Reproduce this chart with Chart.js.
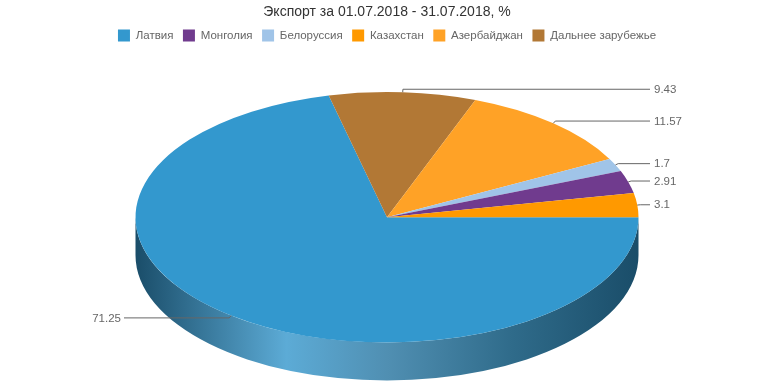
<!DOCTYPE html>
<html>
<head>
<meta charset="utf-8">
<title>Экспорт</title>
<script src="https://cdn.jsdelivr.net/npm/chart.js@4"></script>
<style>
	html, body { margin: 0; padding: 0; background: #fff; }
	canvas { display: block; }
</style>
</head>
<body>
<canvas id="myChart" width="774" height="387"></canvas>
<script>
// ----------------- Chart data -------------------------//
// slices go clockwise from 3 o'clock, the legend has its own order
const categories = ["Латвия", "Дальнее зарубежье", "Азербайджан", "Белоруссия", "Монголия", "Казахстан"];
const shares = [71.25, 9.43, 11.57, 1.7, 2.91, 3.1];
const colors = ["#3398ce", "#b27835", "#ffa226", "#a0c4e8", "#703b8e", "#ff9900"];
const legendOrder = ["Латвия", "Монголия", "Белоруссия", "Казахстан", "Азербайджан", "Дальнее зарубежье"];
const titleText = "Экспорт за 01.07.2018 - 31.07.2018, %";

// ----------------- 3D look -------------------------//
const squash = 0.498;     // ellipse height / width
const depth = 38;         // wall height in px
const leaderOut = 3;      // small elbow outside the rim
const leaderRight = 650;  // where the leader lines end
const leaderLeft = 124;
const fontFamily = "'Liberation Sans', Arial, sans-serif";
// wall shading, left to right across the pie
const wallStops = [
	[0, "#1a4d69"],
	[0.3, "#5cabd6"],
	[0.5, "#508fb2"],
	[0.75, "#2f6b8a"],
	[1, "#1a4d69"],
];

const pie3d = {
	id: "pie3d",
	beforeDatasetsDraw(chart) {
		const ctx = chart.ctx;
		const arcs = chart.getDatasetMeta(0).data;
		const { x, y, outerRadius } = arcs[0];
		const ry = outerRadius * squash;

		// front wall, only the part of each slice that faces us
		const grad = ctx.createLinearGradient(x - outerRadius, 0, x + outerRadius, 0);
		wallStops.forEach((s) => grad.addColorStop(s[0], s[1]));
		arcs.forEach((arc) => {
			const a0 = Math.max(arc.startAngle, 0);
			const a1 = Math.min(arc.endAngle, Math.PI);
			if (a1 <= a0) return;
			ctx.beginPath();
			ctx.ellipse(x, y, outerRadius, ry, 0, a0, a1);
			ctx.ellipse(x, y + depth, outerRadius, ry, 0, a1, a0, true);
			ctx.closePath();
			ctx.fillStyle = grad;
			ctx.fill();
		});

		// the arcs themselves get flattened into an ellipse
		ctx.save();
		ctx.translate(x, y);
		ctx.scale(1, squash);
		ctx.translate(-x, -y);
	},
	afterDatasetsDraw(chart) {
		const ctx = chart.ctx;
		ctx.restore();

		const arcs = chart.getDatasetMeta(0).data;
		ctx.save();
		ctx.font = "11.5px " + fontFamily;
		ctx.textBaseline = "middle";
		ctx.strokeStyle = "#666";
		ctx.fillStyle = "#666";
		ctx.lineWidth = 1;
		arcs.forEach((arc, i) => {
			const mid = (arc.startAngle + arc.endAngle) / 2;
			const ry = arc.outerRadius * squash;
			const rimX = arc.x + Math.cos(mid) * arc.outerRadius;
			const rimY = arc.y + Math.sin(mid) * ry;
			const elbowX = rimX + Math.cos(mid) * leaderOut;
			const elbowY = rimY + Math.sin(mid) * leaderOut;
			const right = Math.cos(mid) >= 0;
			const endX = right ? leaderRight : leaderLeft;

			ctx.beginPath();
			ctx.moveTo(rimX, rimY);
			ctx.lineTo(elbowX, elbowY);
			ctx.lineTo(endX, elbowY);
			ctx.stroke();

			ctx.textAlign = right ? "left" : "right";
			ctx.fillText(String(shares[i]), right ? endX + 4 : endX - 3, elbowY + 0.5);
		});
		ctx.restore();
	},
};

const ctx = document.getElementById("myChart");
const myChart = new Chart(ctx, {
	type: "pie",
	data: {
		labels: categories,
		datasets: [
			{
				data: shares,
				backgroundColor: colors,
				borderWidth: 0,
				radius: 251.5,
				rotation: 90,
				clip: false,
			},
		],
	},
	options: {
		responsive: false,
		animation: false,
		layout: { padding: { bottom: 4 } },
		plugins: {
			title: {
				display: true,
				text: titleText,
				color: "#333",
				font: { family: fontFamily, size: 14, weight: "normal", lineHeight: 1 },
				padding: { top: 5, bottom: 1 },
			},
			legend: {
				position: "top",
				labels: {
					boxWidth: 12,
					boxHeight: 12,
					color: "#666",
					padding: 9.5,
					font: { family: fontFamily, size: 11.5 },
					sort: (a, b) => legendOrder.indexOf(a.text) - legendOrder.indexOf(b.text),
				},
			},
			tooltip: { enabled: false },
		},
	},
	plugins: [pie3d],
});
</script>
</body>
</html>
